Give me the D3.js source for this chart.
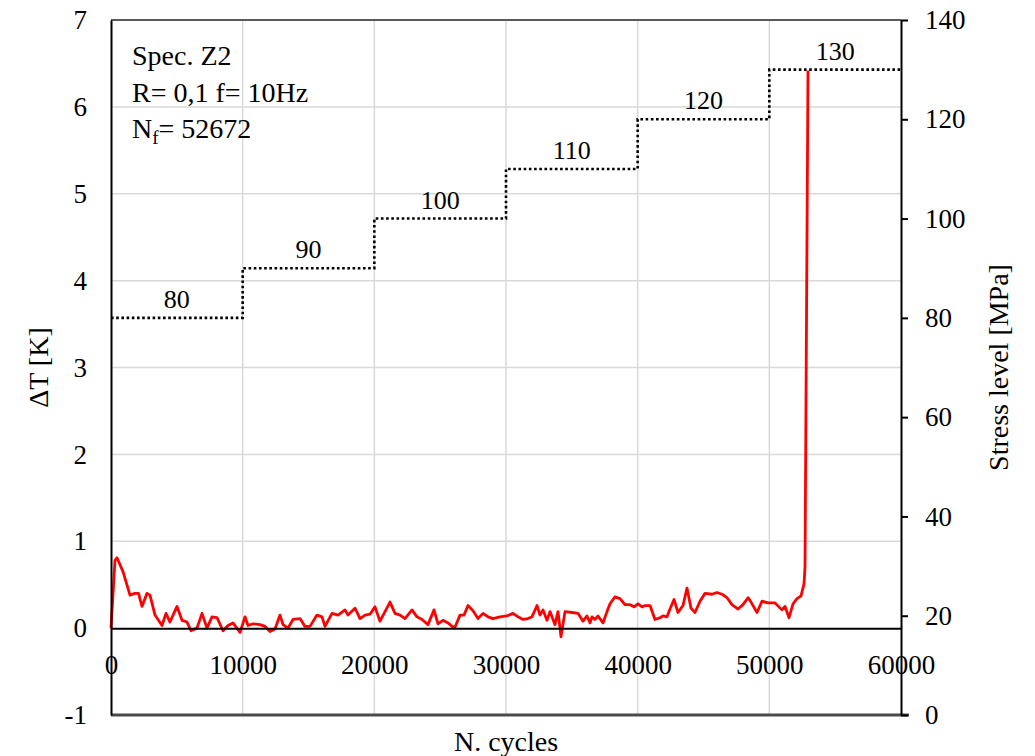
<!DOCTYPE html>
<html>
<head>
<meta charset="utf-8">
<script src="https://cdn.jsdelivr.net/npm/d3@7"></script>
<style>
  body { margin: 0; background: #fff; }
  text { font-family: "Liberation Serif", "Times New Roman", serif; fill: #000; }
</style>
</head>
<body>
<svg id="chart" width="1035" height="756"></svg>
<script>
// Temperature rise ΔT [K] against number of cycles (specimen Z2)
const cycles = [
  0, 304, 456, 911, 1443, 1823, 2089, 2354, 2734, 2962, 3342, 3873, 4177, 4481, 5013, 5393,
  5772, 6076, 6532, 6912, 7291, 7671, 8051, 8506, 8886, 9266, 9798, 10177, 10405, 10785, 11317,
  11696, 12076, 12456, 12836, 13064, 13443, 13823, 14355, 14734, 15114, 15645, 16025, 16253,
  16785, 17241, 17772, 18000, 18532, 18912, 19291, 19671, 20051, 20430, 20810, 21190, 21570,
  21950, 22329, 22861, 23241, 23620, 24076, 24532, 24835, 25215, 25595, 25899, 26127, 26506,
  26810, 27114, 27494, 27874, 28254, 28633, 29013, 29545, 30076, 30532, 30911, 31291, 31671,
  31975, 32355, 32582, 32810, 33114, 33342, 33722, 33950, 34178, 34481, 35013, 35469, 35848,
  36152, 36380, 36532, 36760, 36988, 37367, 37671, 37899, 38279, 38658, 39038, 39418, 39722,
  40025, 40329, 40557, 40937, 41317, 41696, 41924, 42228, 42456, 42760, 43064, 43443, 43747,
  44051, 44355, 44734, 45114, 45646, 46025, 46405, 46785, 47165, 47620, 48000, 48380, 48532,
  49063, 49443, 49899, 50430, 50962, 51190, 51494, 51798, 52101, 52405, 52633, 52709, 52937
];
const deltaT = [
  0.00, 0.78, 0.81, 0.65, 0.38, 0.40, 0.40, 0.25, 0.40, 0.38, 0.15, 0.03, 0.17, 0.07, 0.25, 0.09,
  0.07, -0.03, 0.00, 0.17, 0.00, 0.13, 0.12, -0.03, 0.03, 0.06, -0.05, 0.13, 0.03, 0.05, 0.04,
  0.02, -0.04, -0.01, 0.15, 0.04, 0.00, 0.10, 0.11, 0.02, 0.02, 0.15, 0.13, 0.02,
  0.17, 0.15, 0.21, 0.15, 0.23, 0.11, 0.15, 0.16, 0.245, 0.08, 0.19, 0.30, 0.17,
  0.15, 0.11, 0.21, 0.13, 0.10, 0.04, 0.21, 0.05, 0.09, 0.06, 0.02, 0.01, 0.15,
  0.15, 0.26, 0.20, 0.11, 0.17, 0.13, 0.11, 0.13, 0.14, 0.17, 0.13, 0.10, 0.11,
  0.13, 0.26, 0.15, 0.21, 0.09, 0.19, 0.04, 0.19, -0.10, 0.19, 0.18, 0.17, 0.08,
  0.14, 0.06, 0.13, 0.10, 0.14, 0.06, 0.19, 0.28, 0.36, 0.34, 0.27, 0.27, 0.245,
  0.28, 0.245, 0.26, 0.26, 0.10, 0.12, 0.14, 0.13, 0.22, 0.33, 0.18, 0.26, 0.46,
  0.23, 0.18, 0.31, 0.40, 0.39, 0.41, 0.39, 0.35, 0.27, 0.22, 0.27, 0.35, 0.32,
  0.18, 0.31, 0.29, 0.29, 0.21, 0.25, 0.12, 0.28, 0.34, 0.37, 0.51, 0.70, 6.42
];

// Stress blocks applied in steps of 10000 cycles
const stepStart = [0, 10000, 20000, 30000, 40000, 50000];
const stepEnd = [10000, 20000, 30000, 40000, 50000, 60000];
const stressLevels = [80, 90, 100, 110, 120, 130];

const xTicks = [0, 10000, 20000, 30000, 40000, 50000, 60000];
const leftTicks = [-1, 0, 1, 2, 3, 4, 5, 6, 7];
const rightTicks = [0, 20, 40, 60, 80, 100, 120, 140];

const annotationLines = ["Spec. Z2", "R= 0,1 f= 10Hz"];
const cycleCountLabel = { main: "N", sub: "f", rest: "= 52672" };

const svg = d3.select("#chart");
const W = 1035, H = 756;
const m = { left: 111, right: 134, top: 20, bottom: 41 };
const x0 = m.left, x1 = W - m.right, y0 = H - m.bottom, y1 = m.top;

const x = d3.scaleLinear().domain([0, 60000]).range([x0, x1]);
const yL = d3.scaleLinear().domain([-1, 7]).range([y0, y1]);
const yR = d3.scaleLinear().domain([0, 140]).range([y0, y1]);

const plainNum = d => String(d); // keeps an ASCII hyphen for negatives

// Gridlines
const grid = svg.append("g").attr("stroke", "#d9d9d9").attr("stroke-width", 1.5);
grid.selectAll("line.v").data(xTicks.slice(1, -1)).join("line")
  .attr("x1", d => x(d)).attr("x2", d => x(d)).attr("y1", y1).attr("y2", y0);
grid.selectAll("line.h").data(leftTicks.filter(d => d > 0 && d < 7)).join("line")
  .attr("y1", d => yL(d)).attr("y2", d => yL(d)).attr("x1", x0).attr("x2", x1);

// Plot frame: top and bottom edges
svg.append("line").attr("x1", x0).attr("x2", x1).attr("y1", y1).attr("y2", y1)
  .attr("stroke", "#595959").attr("stroke-width", 2);
svg.append("line").attr("x1", x0).attr("x2", x1 + 8).attr("y1", y0).attr("y2", y0)
  .attr("stroke", "#4a4a4a").attr("stroke-width", 3);

// Stress step line (right axis)
const stepPts = stressLevels.map((s, i) => [stepStart[i], s]);
stepPts.push([stepEnd[stepEnd.length - 1], stressLevels[stressLevels.length - 1]]);
svg.append("path")
  .attr("d", d3.line().x(d => x(d[0])).y(d => yR(d[1])).curve(d3.curveStepAfter)(stepPts))
  .attr("fill", "none").attr("stroke", "#000").attr("stroke-width", 2.6)
  .attr("stroke-dasharray", "2.6,2.6");

svg.append("g").selectAll("text").data(stressLevels).join("text")
  .attr("x", (d, i) => x((stepStart[i] + stepEnd[i]) / 2))
  .attr("y", d => yR(d) - 10)
  .attr("text-anchor", "middle").attr("font-size", 26)
  .text(d => d);

// ΔT curve
svg.append("path")
  .attr("d", d3.line().x((d, i) => x(cycles[i])).y(d => yL(d))(deltaT))
  .attr("fill", "none").attr("stroke", "#f00").attr("stroke-width", 2.8)
  .attr("stroke-linejoin", "round");

// Horizontal axis along ΔT = 0
const xAxis = svg.append("g").attr("transform", `translate(0,${yL(0)})`)
  .call(d3.axisBottom(x).tickValues(xTicks).tickFormat(plainNum).tickSize(0).tickPadding(27));
xAxis.select(".domain").attr("stroke", "#000").attr("stroke-width", 2);
xAxis.selectAll("text").attr("font-size", 27).attr("font-family", null);

// Left axis
const lAxis = svg.append("g").attr("transform", `translate(${x0},0)`)
  .call(d3.axisLeft(yL).tickValues(leftTicks).tickFormat(plainNum).tickSize(0).tickPadding(24));
lAxis.select(".domain").attr("stroke", "#000").attr("stroke-width", 2);
lAxis.selectAll("text").attr("font-size", 27).attr("font-family", null);

// Right axis
const rAxis = svg.append("g").attr("transform", `translate(${x1},0)`)
  .call(d3.axisRight(yR).tickValues(rightTicks).tickFormat(plainNum).tickSize(7).tickSizeOuter(0).tickPadding(17));
rAxis.select(".domain").attr("stroke", "#000").attr("stroke-width", 2);
rAxis.selectAll(".tick line").attr("stroke", "#000").attr("stroke-width", 2);
rAxis.selectAll("text").attr("font-size", 27).attr("font-family", null);

// Axis titles
svg.append("text").attr("transform", `translate(48,${(y0 + y1) / 2}) rotate(-90)`)
  .attr("text-anchor", "middle").attr("font-size", 28).text("ΔT [K]");
svg.append("text").attr("transform", `translate(1008,${(y0 + y1) / 2}) rotate(-90)`)
  .attr("text-anchor", "middle").attr("font-size", 28).text("Stress level [MPa]");
svg.append("text").attr("x", (x0 + x1) / 2).attr("y", 751)
  .attr("text-anchor", "middle").attr("font-size", 28).text("N. cycles");

// Test conditions
const note = svg.append("g").attr("font-size", 28);
annotationLines.forEach((t, i) => {
  note.append("text").attr("x", 132).attr("y", 65 + i * 36.5).text(t);
});
const nf = note.append("text").attr("x", 132).attr("y", 138);
nf.append("tspan").text(cycleCountLabel.main);
nf.append("tspan").attr("font-size", 19).attr("dy", 6).text(cycleCountLabel.sub);
nf.append("tspan").attr("dy", -6).text(cycleCountLabel.rest);
</script>
</body>
</html>
